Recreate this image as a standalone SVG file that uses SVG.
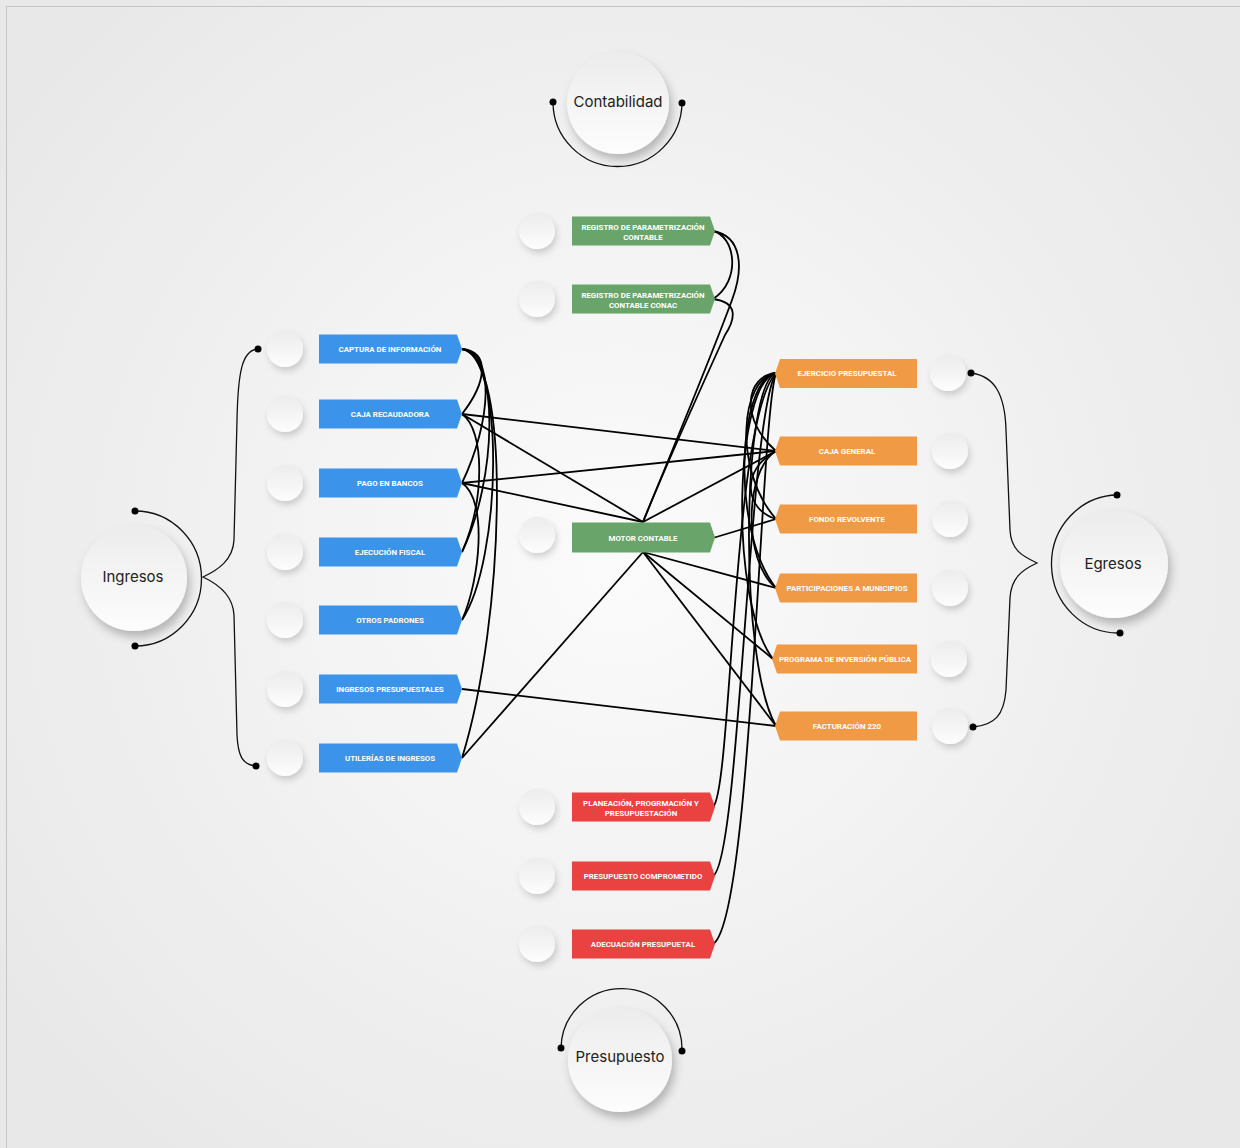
<svg xmlns="http://www.w3.org/2000/svg" width="1240" height="1148" viewBox="0 0 1240 1148">
<defs>
<radialGradient id="bg" cx="620" cy="560" r="760" gradientUnits="userSpaceOnUse">
<stop offset="0" stop-color="#fbfbfb"/>
<stop offset="1" stop-color="#e8e8e8"/>
</radialGradient>
<linearGradient id="knob" x1="0" y1="0" x2="0" y2="1">
<stop offset="0" stop-color="#ececec"/>
<stop offset="1" stop-color="#fdfdfd"/>
</linearGradient>
<filter id="sh" x="-40%" y="-40%" width="180%" height="180%">
<feDropShadow dx="2" dy="4" stdDeviation="3" flood-color="#000" flood-opacity="0.16"/>
</filter>
<filter id="shBig" x="-40%" y="-40%" width="180%" height="180%">
<feDropShadow dx="3" dy="6" stdDeviation="5" flood-color="#000" flood-opacity="0.25"/>
</filter>
</defs>
<style>
.lbl{font-family:Roboto,"Liberation Sans",sans-serif;font-weight:700;font-size:7.9px;fill:#fff;text-anchor:middle}
.big{font-family:Inter,Roboto,"Liberation Sans",sans-serif;font-size:15px;fill:#222;text-anchor:middle}
.blue{fill:#3c94ea}
.green{fill:#69a56b}
.orange{fill:#f19a45}
.red{fill:#ea4141}
.knob{fill:url(#knob);filter:url(#sh)}
.bigc{fill:url(#knob);filter:url(#shBig)}
.ln{fill:none;stroke:#000;stroke-width:1.8}
.arc{fill:none;stroke:#111;stroke-width:1.3}
.dot{fill:#000}
</style>
<rect x="0" y="0" width="1240" height="1148" fill="url(#bg)"/>
<rect x="6.5" y="6.5" width="1240" height="1148" fill="none" stroke="#c4c4c4"/>

<!-- Big hubs -->
<g id="contabilidad">
<path class="arc" d="M553,102 A64.5,64.5 0 0 0 682,102"/>
<circle class="dot" cx="553" cy="102" r="3.5"/>
<circle class="dot" cx="682" cy="103" r="3.5"/>
<circle class="bigc" cx="618" cy="103" r="51"/>
<text class="big" x="618" y="107">Contabilidad</text>
</g>
<g id="presupuesto">
<path class="arc" d="M561,1048 A60.5,60.5 0 0 1 682,1050"/>
<circle class="dot" cx="561" cy="1048" r="3.5"/>
<circle class="dot" cx="682" cy="1051" r="3.5"/>
<circle class="bigc" cx="620" cy="1060" r="52"/>
<text class="big" x="620" y="1062">Presupuesto</text>
</g>
<g id="ingresos">
<path class="arc" d="M135,511 A66,67 0 0 1 135,646"/>
<circle class="dot" cx="135" cy="511" r="3.5"/>
<circle class="dot" cx="135" cy="646" r="3.5"/>
<circle class="bigc" cx="134" cy="578" r="53"/>
<text class="big" x="133" y="582">Ingresos</text>
<path class="arc" d="M258,349 C242,350 238,372 237,420 L234,540 C233,560 218,570 203,577 C218,584 233,595 234,615 L237,735 C238,755 242,765 256,766"/>
<circle class="dot" cx="258" cy="349" r="3.5"/>
<circle class="dot" cx="256" cy="766" r="3.5"/>
</g>
<g id="egresos">
<path class="arc" d="M1117,495 A67,69 0 0 0 1120,633"/>
<circle class="dot" cx="1117" cy="495" r="3.5"/>
<circle class="dot" cx="1120" cy="633" r="3.5"/>
<circle class="bigc" cx="1114" cy="564" r="54"/>
<text class="big" x="1113" y="569">Egresos</text>
<path class="arc" d="M971,373 C995,376 1005,395 1006,430 L1010,530 C1011,550 1022,556 1037,563 C1022,570 1011,578 1010,598 L1006,690 C1004,715 995,725 973,727"/>
<circle class="dot" cx="971" cy="373" r="3.5"/>
<circle class="dot" cx="973" cy="727" r="3.5"/>
</g>

<!-- Connectors -->
<g id="connectors">
<path class="ln" d="M462,349 C490,352 487,382 462,414"/>
<path class="ln" d="M462,349 C495,352 492,420 462,483"/>
<path class="ln" d="M462,349 C500,355 497,480 462,552"/>
<path class="ln" d="M462,349 C505,355 502,560 462,620"/>
<path class="ln" d="M462,349 C512,355 505,620 462,758"/>
<path class="ln" d="M462,414 C485,430 485,500 462,552"/>
<path class="ln" d="M462,483 C488,500 480,580 462,620"/>
<path class="ln" d="M462,414 L776,451"/>
<path class="ln" d="M462,414 L643,522"/>
<path class="ln" d="M462,483 L776,451"/>
<path class="ln" d="M462,483 L643,522"/>
<path class="ln" d="M462,689 L776,726"/>
<path class="ln" d="M462,758 L643,552"/>
<path class="ln" d="M643,522 L776,451"/>
<path class="ln" d="M713,538 L776,519"/>
<path class="ln" d="M643,552 L776,588"/>
<path class="ln" d="M643,552 L773,659"/>
<path class="ln" d="M643,552 L776,726"/>
<path class="ln" d="M713,231 C735,236 742,280 713,299"/>
<path class="ln" d="M713,231 C742,236 744,268 732,300 C710,360 660,480 643,522"/>
<path class="ln" d="M713,299 C738,302 736,318 725,335 C700,390 660,480 643,522"/>
<path class="ln" d="M776,373 C745,376 740,420 776,451"/>
<path class="ln" d="M776,373 C740,378 733,470 776,519"/>
<path class="ln" d="M776,373 C738,380 730,530 776,588"/>
<path class="ln" d="M776,373 C735,382 728,600 773,659"/>
<path class="ln" d="M776,373 C742,385 738,660 776,726"/>
<path class="ln" d="M776,451 C745,470 742,560 776,588"/>
<path class="ln" d="M776,451 C740,470 745,510 776,519"/>
<path class="ln" d="M713,807 C732,790 732,420 776,373"/>
<path class="ln" d="M713,876 C740,860 748,420 776,373"/>
<path class="ln" d="M713,944 C752,920 760,420 776,373"/>
</g>

<!-- Blue nodes -->
<g id="captura"><circle class="knob" cx="285" cy="349" r="18"/><path class="blue" d="M319,334.5h138l5,14.5l-5,14.5h-138z"/><text class="lbl" x="390" y="352">CAPTURA DE INFORMACIÓN</text></g>
<g id="caja-recaudadora"><circle class="knob" cx="285" cy="414" r="18"/><path class="blue" d="M319,399.5h138l5,14.5l-5,14.5h-138z"/><text class="lbl" x="390" y="417">CAJA RECAUDADORA</text></g>
<g id="pago-bancos"><circle class="knob" cx="285" cy="483" r="18"/><path class="blue" d="M319,468.5h138l5,14.5l-5,14.5h-138z"/><text class="lbl" x="390" y="486">PAGO EN BANCOS</text></g>
<g id="ejecucion-fiscal"><circle class="knob" cx="285" cy="552" r="18"/><path class="blue" d="M319,537.5h138l5,14.5l-5,14.5h-138z"/><text class="lbl" x="390" y="555">EJECUCIÓN FISCAL</text></g>
<g id="otros-padrones"><circle class="knob" cx="285" cy="620" r="18"/><path class="blue" d="M319,605.5h138l5,14.5l-5,14.5h-138z"/><text class="lbl" x="390" y="623">OTROS PADRONES</text></g>
<g id="ingresos-presupuestales"><circle class="knob" cx="285" cy="689" r="18"/><path class="blue" d="M319,674.5h138l5,14.5l-5,14.5h-138z"/><text class="lbl" x="390" y="692">INGRESOS PRESUPUESTALES</text></g>
<g id="utilerias"><circle class="knob" cx="285" cy="758" r="18"/><path class="blue" d="M319,743.5h138l5,14.5l-5,14.5h-138z"/><text class="lbl" x="390" y="761">UTILERÍAS DE INGRESOS</text></g>

<!-- Green nodes -->
<g id="registro-contable"><circle class="knob" cx="537" cy="231" r="18"/><path class="green" d="M572,216.5h138l5,14.5l-5,14.5h-138z"/><text class="lbl" x="643" y="230">REGISTRO DE PARAMETRIZACIÓN</text><text class="lbl" x="643" y="240">CONTABLE</text></g>
<g id="registro-conac"><circle class="knob" cx="537" cy="299" r="18"/><path class="green" d="M572,284.5h138l5,14.5l-5,14.5h-138z"/><text class="lbl" x="643" y="298">REGISTRO DE PARAMETRIZACIÓN</text><text class="lbl" x="643" y="308">CONTABLE CONAC</text></g>
<g id="motor-contable"><circle class="knob" cx="537" cy="535" r="18"/><path class="green" d="M572,522.5h138l5,15l-5,15h-138z"/><text class="lbl" x="643" y="541">MOTOR CONTABLE</text></g>

<!-- Orange nodes -->
<g id="ejercicio"><circle class="knob" cx="948" cy="373" r="18"/><path class="orange" d="M780,359h137v29h-137l-5,-14.5z"/><text class="lbl" x="847" y="376">EJERCICIO PRESUPUESTAL</text></g>
<g id="caja-general"><circle class="knob" cx="950" cy="451" r="18"/><path class="orange" d="M780,436.5h137v29h-137l-5,-14.5z"/><text class="lbl" x="847" y="454">CAJA GENERAL</text></g>
<g id="fondo"><circle class="knob" cx="950" cy="519" r="18"/><path class="orange" d="M780,504.5h137v29h-137l-5,-14.5z"/><text class="lbl" x="847" y="522">FONDO REVOLVENTE</text></g>
<g id="participaciones"><circle class="knob" cx="950" cy="588" r="18"/><path class="orange" d="M780,573.5h137v29h-137l-5,-14.5z"/><text class="lbl" x="847" y="591">PARTICIPACIONES A MUNICIPIOS</text></g>
<g id="programa"><circle class="knob" cx="949" cy="659" r="18"/><path class="orange" d="M777,644.5h140v29h-140l-5,-14.5z"/><text class="lbl" x="845" y="662">PROGRAMA DE INVERSIÓN PÚBLICA</text></g>
<g id="facturacion"><circle class="knob" cx="950" cy="726" r="18"/><path class="orange" d="M780,711.5h137v29h-137l-5,-14.5z"/><text class="lbl" x="847" y="729">FACTURACIÓN 220</text></g>

<!-- Red nodes -->
<g id="planeacion"><circle class="knob" cx="537" cy="807" r="18"/><path class="red" d="M572,792.5h138l5,14.5l-5,14.5h-138z"/><text class="lbl" x="641" y="806">PLANEACIÓN, PROGRMACIÓN Y</text><text class="lbl" x="641" y="816">PRESUPUESTACIÓN</text></g>
<g id="comprometido"><circle class="knob" cx="537" cy="876" r="18"/><path class="red" d="M572,861.5h138l5,14.5l-5,14.5h-138z"/><text class="lbl" x="643" y="879">PRESUPUESTO COMPROMETIDO</text></g>
<g id="adecuacion"><circle class="knob" cx="537" cy="944" r="18"/><path class="red" d="M572,929.5h138l5,14.5l-5,14.5h-138z"/><text class="lbl" x="643" y="947">ADECUACIÓN PRESUPUETAL</text></g>
</svg>
